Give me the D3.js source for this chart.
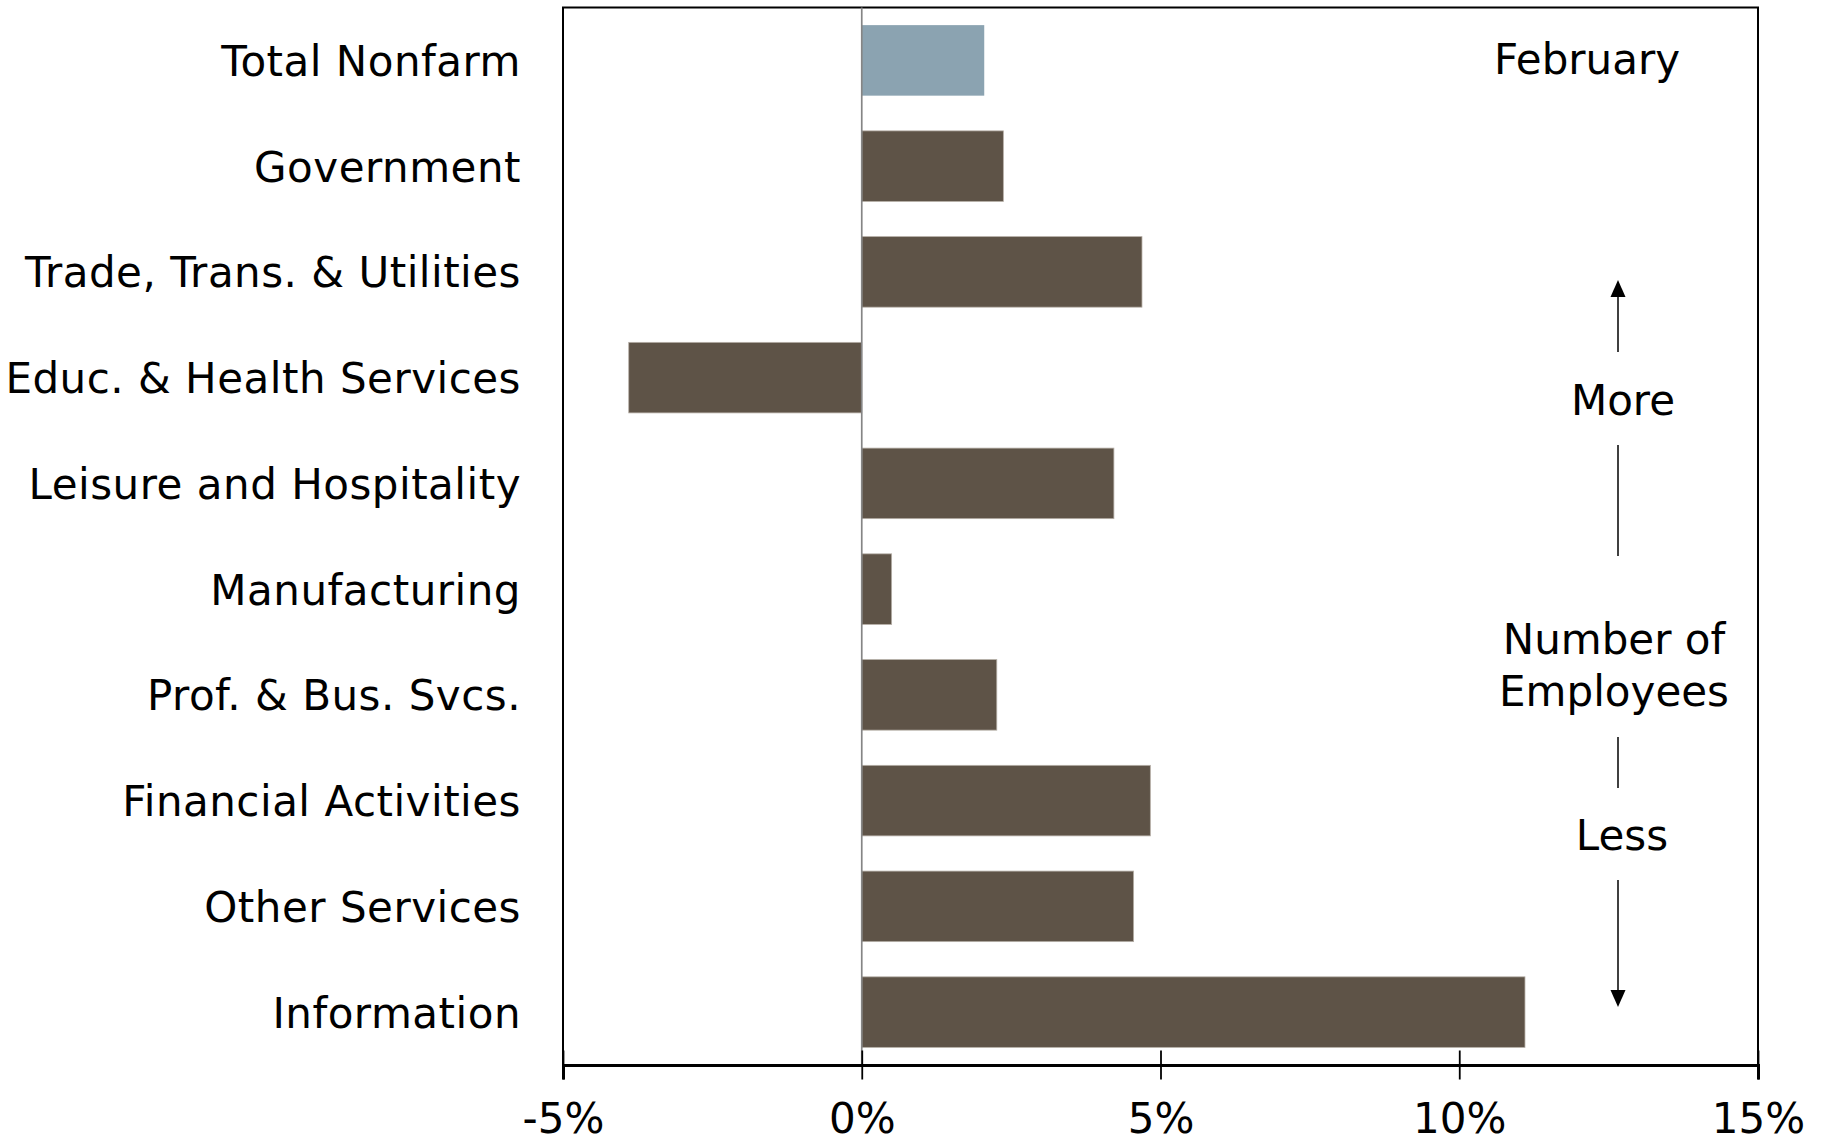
<!DOCTYPE html>
<html>
<head>
<meta charset="utf-8">
<script src="https://cdn.jsdelivr.net/npm/d3@7"></script>
<style>
    body { margin: 0; background: #fff; }
    svg { display: block; font-family: 'DejaVu Sans', Verdana, sans-serif; }
</style>
</head>
<body>
<div id="chart"></div>
<script>
const categories = [
    'Total Nonfarm',
    'Government',
    'Trade, Trans. & Utilities',
    'Educ. & Health Services',
    'Leisure and Hospitality',
    'Manufacturing',
    'Prof. & Bus. Svcs.',
    'Financial Activities',
    'Other Services',
    'Information'
];
const values = [2.05, 2.37, 4.69, -3.9, 4.22, 0.5, 2.26, 4.83, 4.55, 11.1];
const xTicks = [-5, 0, 5, 10, 15];
const monthLabel = 'February';

const width = 1829, height = 1144;
const plot = { left: 563, right: 1758, top: 7.5, bottom: 1065 };

const svg = d3.select('#chart').append('svg')
    .attr('width', width)
    .attr('height', height);

const x = d3.scaleLinear()
    .domain([-5, 15])
    .range([plot.left, plot.right]);

const y = d3.scaleBand()
    .domain(categories)
    .range([plot.top, plot.bottom])
    .paddingInner(0.333)
    .paddingOuter(0.1667);

// frame
svg.append('rect')
    .attr('x', plot.left)
    .attr('y', plot.top)
    .attr('width', plot.right - plot.left)
    .attr('height', plot.bottom - plot.top)
    .attr('fill', 'none')
    .attr('stroke', '#000')
    .attr('stroke-width', 2);

// bars
svg.selectAll('.bar')
    .data(categories)
    .enter()
    .append('rect')
    .attr('class', 'bar')
    .attr('x', (d, i) => x(Math.min(0, values[i])))
    .attr('y', d => y(d))
    .attr('width', (d, i) => Math.abs(x(values[i]) - x(0)))
    .attr('height', y.bandwidth())
    .attr('fill', (d, i) => i === 0 ? '#8ba3b1' : '#5e5347')
    .attr('stroke', (d, i) => i === 0 ? 'none' : '#b5aea6')
    .attr('stroke-width', 0.8);

// zero line
svg.append('line')
    .attr('x1', x(0)).attr('x2', x(0))
    .attr('y1', plot.top).attr('y2', plot.bottom)
    .attr('stroke', '#858585')
    .attr('stroke-width', 1.7);

// x axis
const xAxis = svg.append('g')
    .attr('transform', `translate(0,${plot.bottom})`)
    .call(d3.axisBottom(x).tickValues(xTicks).tickFormat(d => d + '%').tickSize(14.5));

xAxis.select('.domain')
    .attr('stroke', '#000')
    .attr('stroke-width', 3);
xAxis.selectAll('.tick line')
    .attr('y1', -14.5)
    .attr('stroke', '#000')
    .attr('stroke-width', 1.8);
xAxis.selectAll('.tick text')
    .attr('y', 68)
    .attr('dy', 0)
    .attr('fill', '#000')
    .style('font-size', '42px')
    .style('font-family', "'DejaVu Sans', Verdana, sans-serif");

// category labels
svg.append('g')
    .selectAll('text')
    .data(categories)
    .enter()
    .append('text')
    .attr('x', 521)
    .attr('y', d => y(d) + y.bandwidth() / 2)
    .attr('dy', '0.37em')
    .attr('text-anchor', 'end')
    .attr('font-size', 42)
    .attr('letter-spacing', 0.5)
    .attr('fill', '#000')
    .text(d => d);

// month label
svg.append('text')
    .attr('x', 1587)
    .attr('y', 74)
    .attr('text-anchor', 'middle')
    .attr('font-size', 42)
    .text(monthLabel);

// "Number of Employees" annotation
const ann = svg.append('g');
const ax = 1618;

ann.append('path')
    .attr('d', `M${ax},280 L${ax - 7.5},297 L${ax + 7.5},297 Z`)
    .attr('fill', '#000');
ann.append('line')
    .attr('x1', ax).attr('x2', ax).attr('y1', 295).attr('y2', 352)
    .attr('stroke', '#000').attr('stroke-width', 1.5);

ann.append('text')
    .attr('x', 1623).attr('y', 415)
    .attr('text-anchor', 'middle').attr('font-size', 42)
    .text('More');

ann.append('line')
    .attr('x1', ax).attr('x2', ax).attr('y1', 445).attr('y2', 556)
    .attr('stroke', '#000').attr('stroke-width', 1.5);

ann.append('text')
    .attr('x', 1614).attr('y', 654)
    .attr('text-anchor', 'middle').attr('font-size', 42)
    .text('Number of');
ann.append('text')
    .attr('x', 1614).attr('y', 706)
    .attr('text-anchor', 'middle').attr('font-size', 42)
    .text('Employees');

ann.append('line')
    .attr('x1', ax).attr('x2', ax).attr('y1', 737).attr('y2', 788)
    .attr('stroke', '#000').attr('stroke-width', 1.5);

ann.append('text')
    .attr('x', 1622).attr('y', 850)
    .attr('text-anchor', 'middle').attr('font-size', 42)
    .text('Less');

ann.append('line')
    .attr('x1', ax).attr('x2', ax).attr('y1', 880).attr('y2', 992)
    .attr('stroke', '#000').attr('stroke-width', 1.5);
ann.append('path')
    .attr('d', `M${ax},1007 L${ax - 7.5},990 L${ax + 7.5},990 Z`)
    .attr('fill', '#000');
</script>
</body>
</html>
